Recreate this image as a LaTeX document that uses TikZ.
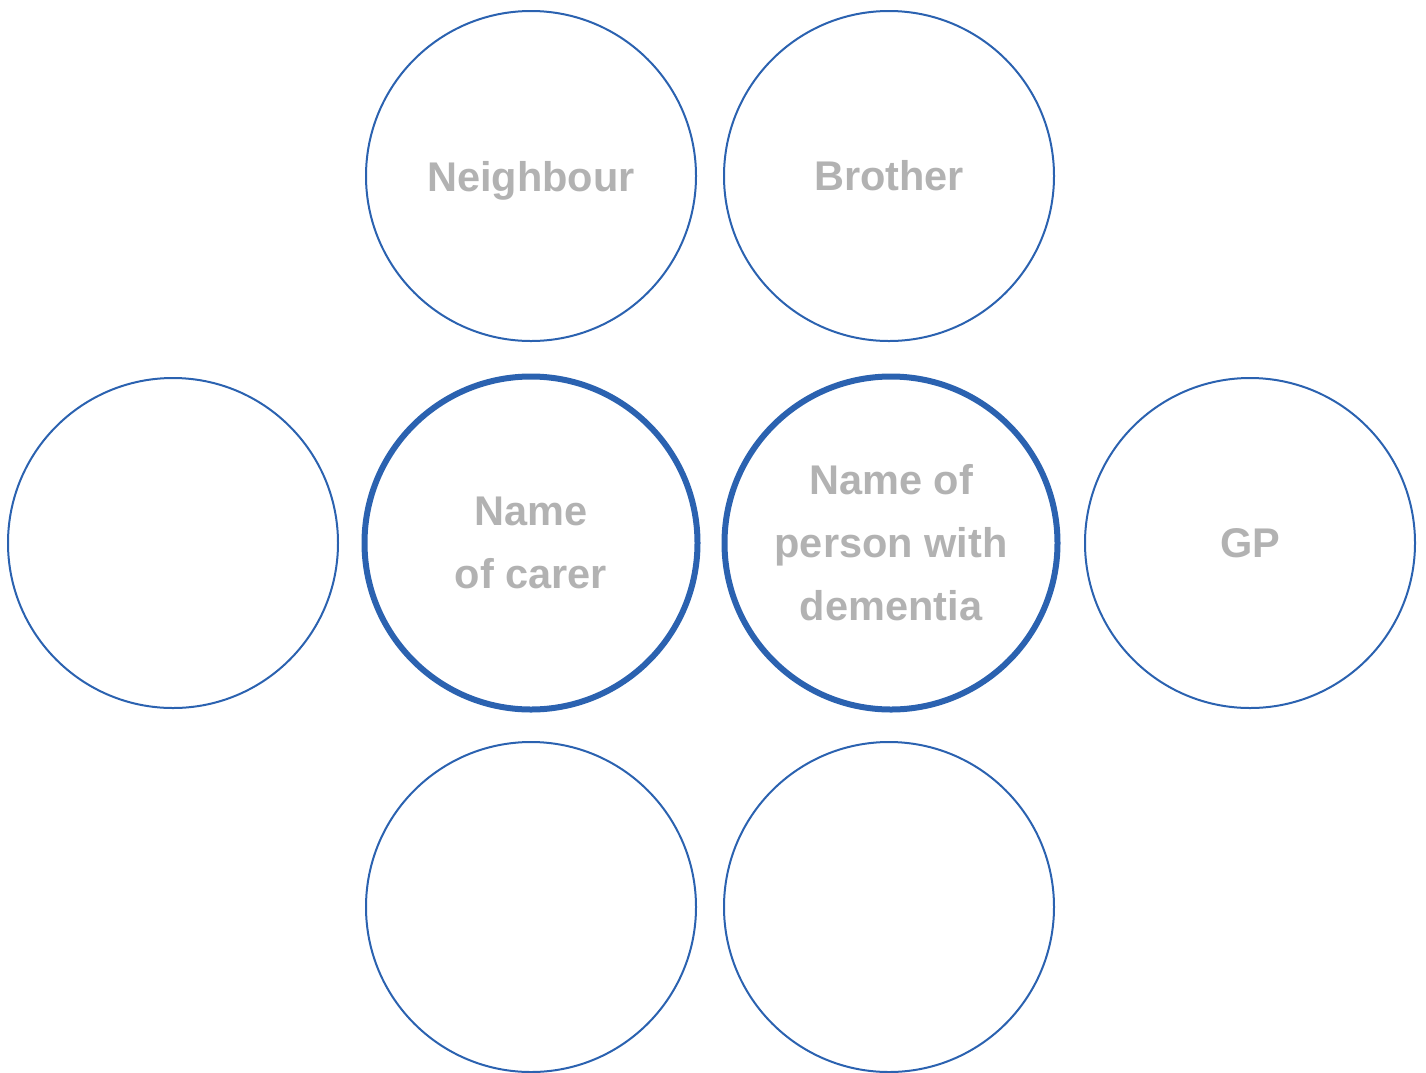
\documentclass[tikz,border=0pt]{standalone}
\usepackage{fontspec}
\setmainfont{Liberation Sans}
\definecolor{ringblue}{RGB}{43,98,176}
\definecolor{labelgray}{RGB}{178,178,178}
\tikzset{
  ring/.style={circle, draw=ringblue, line width=2pt, minimum size=330pt, inner sep=0pt,
    text=labelgray, font=\fontsize{41.5}{63}\selectfont\bfseries, align=center},
  thickring/.style={ring, line width=6pt, minimum size=333pt}
}
\begin{document}
\begin{tikzpicture}[x=1pt,y=-1pt]
\useasboundingbox (0,0) rectangle (1426,1072);
\node[ring, text depth=0pt] (neighbour) at (531,176) {Neighbour};
\node[ring] (brother) at (889,176) {Brother};
\node[ring] (left) at (173,543) {};
\node[thickring] (carer) at (531,543) {Name\\of carer};
\node[thickring] (person) at (891,543) {Name of\\person with\\dementia};
\node[ring] (gp) at (1250,543) {GP};
\node[ring] (botleft) at (531,907) {};
\node[ring] (botright) at (889,907) {};
\end{tikzpicture}
\end{document}
